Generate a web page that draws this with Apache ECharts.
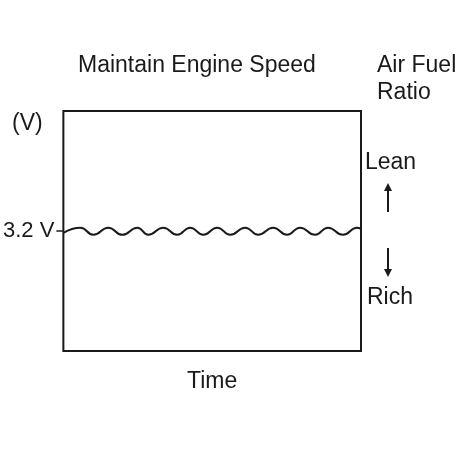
<!DOCTYPE html>
<html>
<head>
<meta charset="utf-8">
<script src="https://cdn.jsdelivr.net/npm/echarts@6/dist/echarts.min.js"></script>
<style>html,body{margin:0;padding:0;background:#fff}#c{width:474px;height:474px}</style>
</head>
<body>
<div id="c"></div>
<script>
// Wave extremes (time position in px-units across the box, voltage)
const waveTime = [0, 17, 30, 45, 59, 74, 85, 100, 114, 127, 140, 154, 167, 182, 195, 210, 224, 237, 252, 265, 280, 294, 298];
const waveVolt = [3.15, 3.29, 3.1, 3.29, 3.1, 3.29, 3.1, 3.29, 3.1, 3.29, 3.1, 3.29, 3.1, 3.29, 3.1, 3.29, 3.1, 3.29, 3.1, 3.29, 3.1, 3.29, 3.26];
const yTickValues = [3.2];
const yTickLabels = ['3.2 V'];
const titleText = 'Maintain Engine Speed';
const xName = 'Time';
const yName = '(V)';
const rightTitle = ['Air Fuel', 'Ratio'];
const leanText = 'Lean';
const richText = 'Rich';

const FONT = 'Liberation Sans, Arial, sans-serif';
const INK = '#1a1a1a';
const FS = 23;
const chart = echarts.init(document.getElementById('c'));
const txt = (text, x, y) => ({
  type: 'text', x: x, y: y,
  style: { text: text, font: FS + 'px ' + FONT, fill: INK, verticalAlign: 'middle', align: 'left' }
});
chart.setOption({
  animation: false,
  backgroundColor: '#fff',
  grid: { left: 63, top: 111, width: 298, height: 240, show: true, borderColor: INK, borderWidth: 2, backgroundColor: 'transparent' },
  xAxis: {
    type: 'value', min: 0, max: 298,
    axisLine: { show: false }, axisTick: { show: false }, axisLabel: { show: false }, splitLine: { show: false },
    name: xName, nameLocation: 'middle', nameGap: 19,
    nameTextStyle: { fontSize: FS, color: INK, fontFamily: FONT, verticalAlign: 'top' }
  },
  yAxis: {
    type: 'value', min: 0, max: 6.4,
    axisLine: { show: false }, splitLine: { show: false },
    axisTick: { show: true, length: 7, customValues: yTickValues, lineStyle: { color: INK, width: 1.5 } },
    axisLabel: {
      customValues: yTickValues, margin: 9,
      formatter: v => { const i = yTickValues.indexOf(v); return i >= 0 ? yTickLabels[i] : ''; },
      fontSize: FS - 1, color: INK, fontFamily: FONT
    }
  },
  series: [{
    type: 'line', smooth: 0.5, symbol: 'none',
    data: waveTime.map((t, i) => [t, waveVolt[i]]),
    lineStyle: { color: INK, width: 2 }
  }],
  graphic: [
    txt(titleText, 78, 66),
    txt(rightTitle[0], 377, 66),
    txt(rightTitle[1], 377, 93),
    txt(yName, 12, 124),
    txt(leanText, 365, 163),
    txt(richText, 367, 298),
    { type: 'line', shape: { x1: 388, y1: 212, x2: 388, y2: 188 }, style: { stroke: INK, lineWidth: 2 } },
    { type: 'polygon', shape: { points: [[384, 191], [392, 191], [388, 183]] }, style: { fill: INK } },
    { type: 'line', shape: { x1: 388, y1: 248, x2: 388, y2: 272 }, style: { stroke: INK, lineWidth: 2 } },
    { type: 'polygon', shape: { points: [[384, 269], [392, 269], [388, 277]] }, style: { fill: INK } }
  ]
});
</script>
</body>
</html>
